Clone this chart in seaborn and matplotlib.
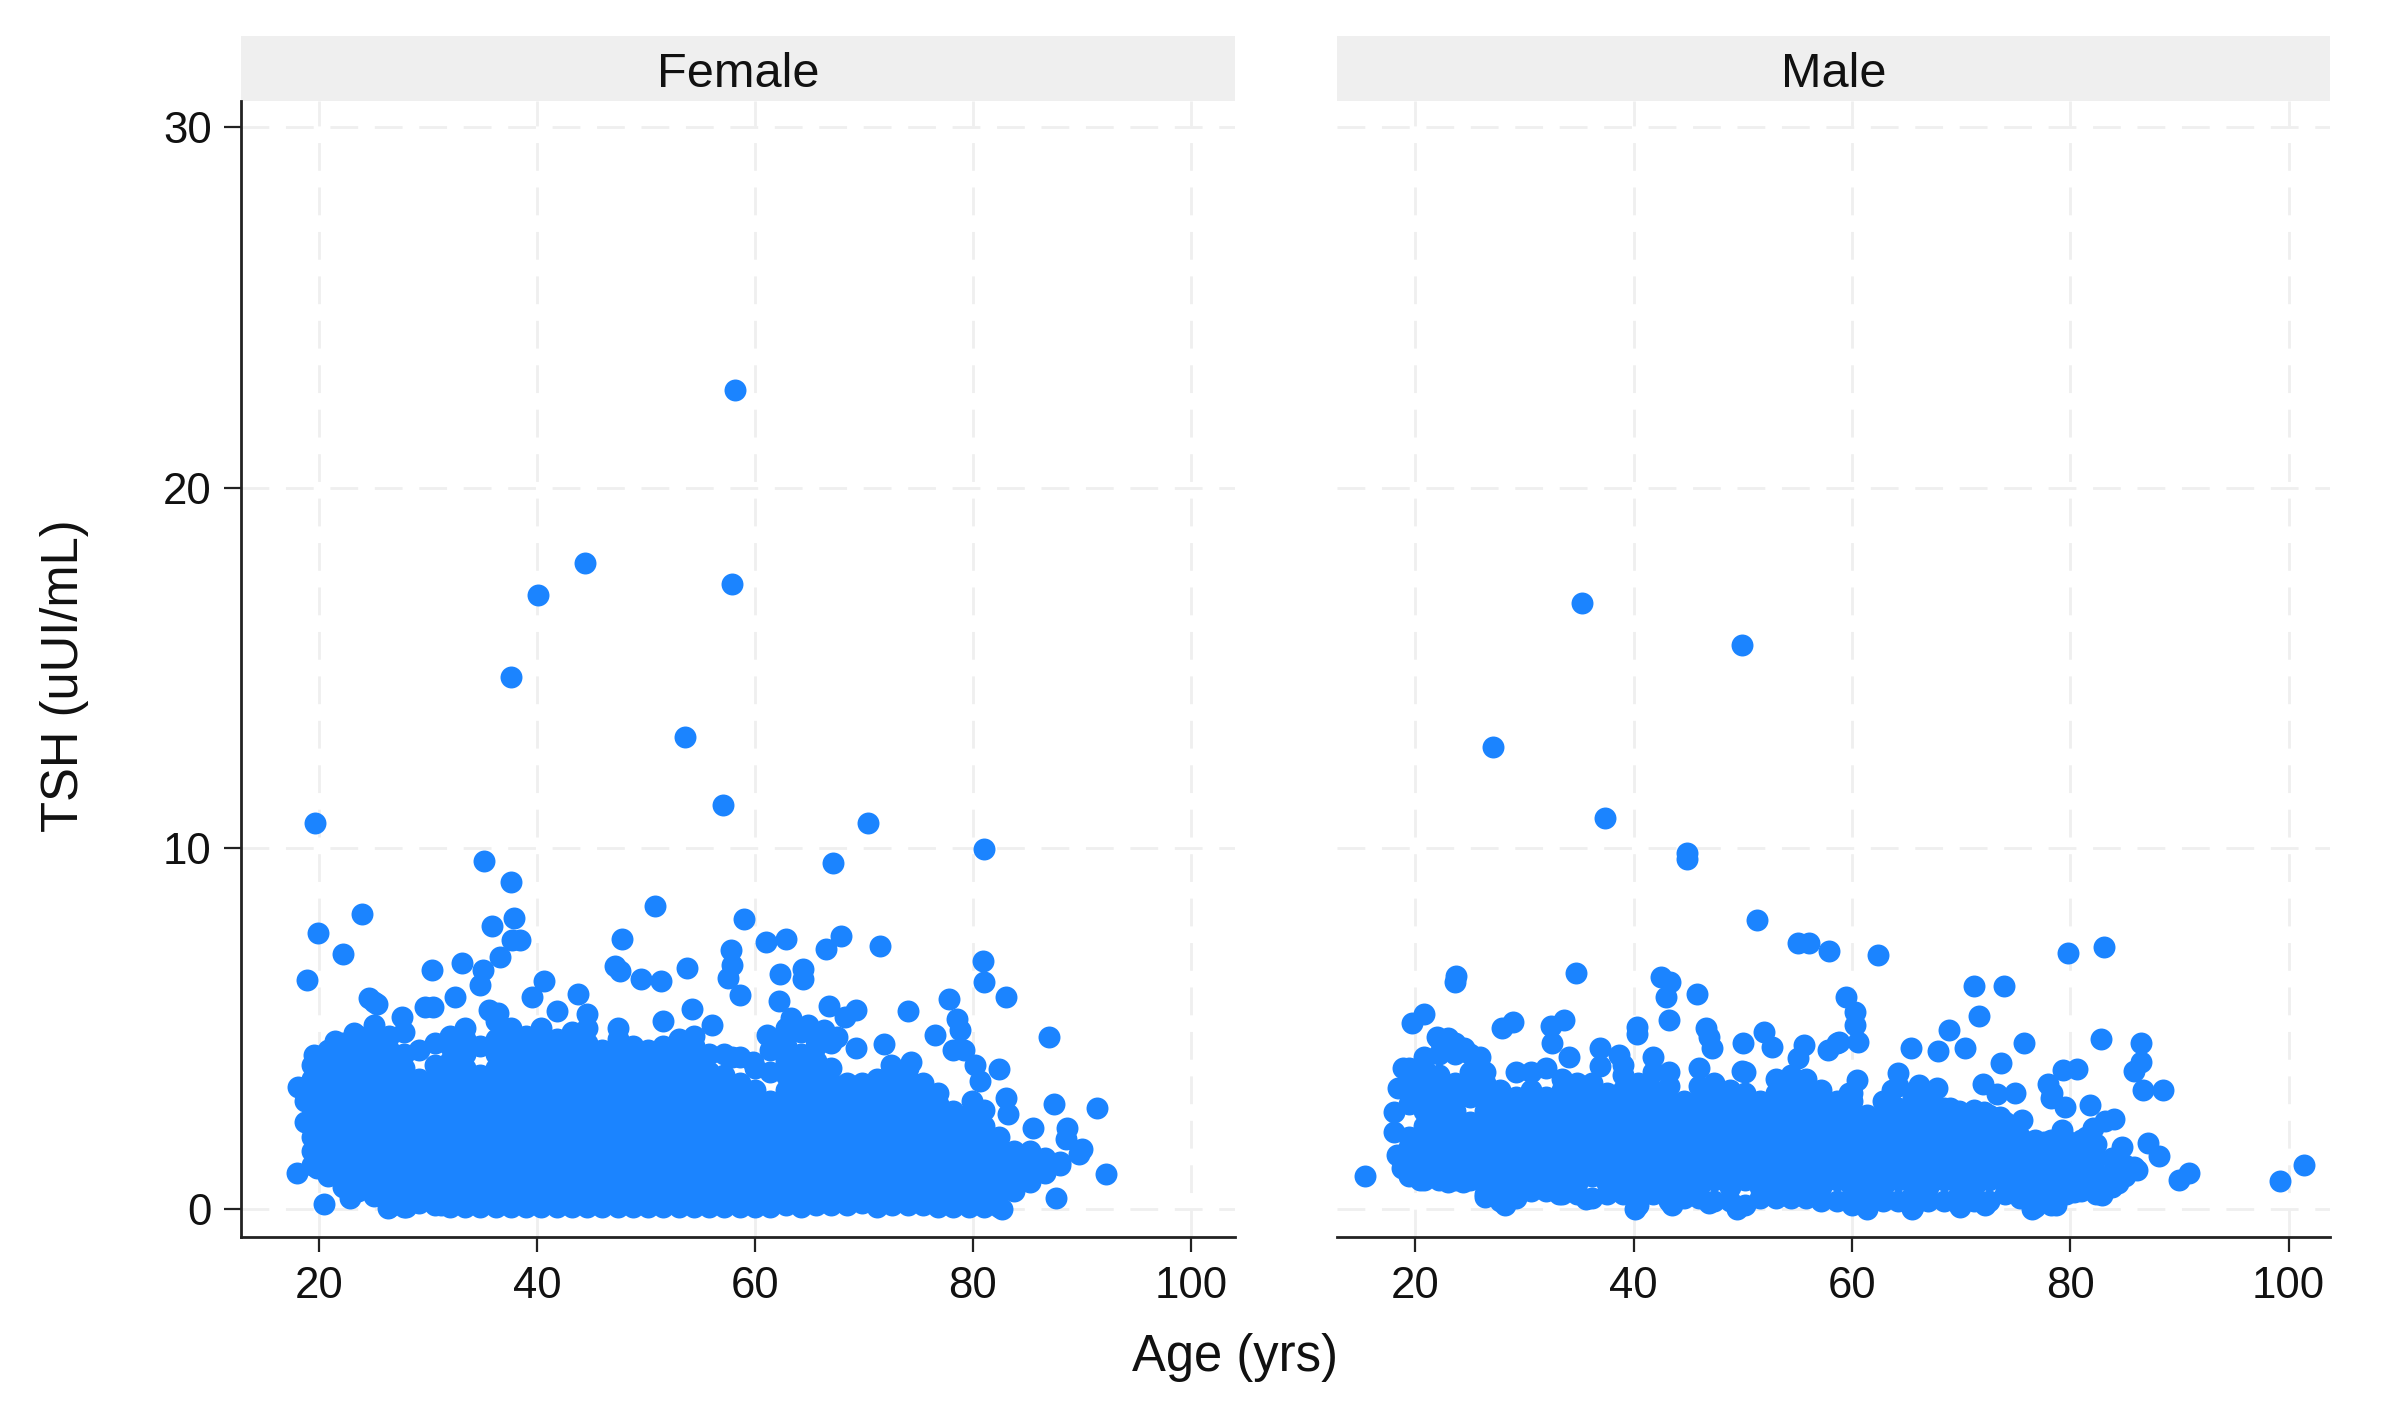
import matplotlib
matplotlib.use("Agg")
import matplotlib.pyplot as plt
from matplotlib.patches import Rectangle
import pandas as pd
import seaborn as sns

sex_labels = ["Female", "Male"]
x_ticks = [20, 40, 60, 80, 100]
y_ticks = [0, 10, 20, 30]
x_title = "Age (yrs)"
y_title = "TSH (uUI/mL)"

# Separately readable points, female panel
f_age = [58.2, 57.9, 44.4, 40.1, 37.6, 53.6, 57.1, 19.65, 70.4, 81.0, 67.2, 35.1, 37.6, 50.8,
         23.9, 19.9, 22.2, 18.9, 37.9, 35.9, 37.7, 38.45, 36.6, 33.1, 35.0, 34.8, 30.4, 32.5,
         24.6, 25.0, 25.3, 29.7, 30.5, 40.6, 39.5, 47.8, 47.2, 47.6, 49.5, 51.4, 53.8, 59.0,
         57.8, 57.9, 57.5, 58.6, 43.8, 41.8, 54.2, 56.1, 35.6, 36.4, 27.6, 25.0, 23.2, 21.5,
         19.5, 18.1, 18.7, 18.7, 17.95, 19.8, 20.5, 61.0, 62.8, 66.5, 67.9, 71.5, 62.3, 64.4,
         64.4, 62.2, 66.8, 69.3, 68.3, 74.0, 77.8, 80.9, 81.0, 83.0, 78.5, 78.8, 76.5, 87.0,
         78.2, 79.2, 80.2, 82.4, 80.6, 87.4, 91.4, 83.0, 83.2, 79.9, 81.0, 85.5, 88.6, 88.5,
         90.0, 89.7, 92.2, 87.6, 82.7, 69.3, 71.8, 74.3, 72.5, 61.1, 62.0, 63.3, 64.9, 66.3,
         67.5, 59.8, 57.9, 22.8, 26.3, 28.0, 31.2]
f_tsh = [22.71, 17.32, 17.91, 17.02, 14.75, 13.1, 11.2, 10.7, 10.7, 9.99, 9.6, 9.65, 9.06, 8.39,
         8.17, 7.66, 7.07, 6.34, 8.06, 7.84, 7.46, 7.46, 6.98, 6.83, 6.62, 6.2, 6.62, 5.88,
         5.84, 5.74, 5.68, 5.59, 5.59, 6.32, 5.88, 7.47, 6.72, 6.6, 6.37, 6.33, 6.69, 8.03,
         7.19, 6.76, 6.41, 5.93, 5.96, 5.49, 5.54, 5.1, 5.51, 5.42, 5.33, 5.1, 4.87, 4.65,
         4.27, 3.39, 3.0, 2.4, 1.0, 1.12, 0.13, 7.39, 7.49, 7.2, 7.57, 7.3, 6.52, 6.64,
         6.37, 5.77, 5.63, 5.5, 5.33, 5.49, 5.83, 6.87, 6.3, 5.87, 5.26, 4.96, 4.82, 4.75,
         4.4, 4.4, 4.0, 3.87, 3.53, 2.9, 2.78, 3.06, 2.64, 3.0, 2.74, 2.25, 2.23, 1.92,
         1.65, 1.52, 0.95, 0.31, 0.0, 4.45, 4.57, 4.08, 4.0, 4.82, 4.63, 5.28, 5.1, 4.96,
         4.77, 4.08, 4.2, 0.3, 0.01, 0.05, 0.1]

# Dense mass, female panel: age of each column and the TSH values along it
f_col_age = [19.4, 20.8, 22.2, 23.6, 25.0, 26.4, 27.8, 29.2, 30.6, 32.0, 33.4, 34.8, 36.2, 37.6,
             39.0, 40.4, 41.8, 43.2, 44.6, 46.0, 47.4, 48.8, 50.2, 51.6, 53.0, 54.4, 55.8, 57.2,
             58.6, 60.0, 61.4, 62.8, 64.2, 65.6, 67.0, 68.4, 69.8, 71.2, 72.6, 74.0, 75.4, 76.8,
             78.2, 79.6, 81.0, 82.4, 83.8, 85.2, 86.6, 88.0]
f_col_tsh = [
    [1.2, 1.6, 2.0, 2.4, 2.8, 3.2, 3.6, 4.0],
    [0.9, 1.3, 1.7, 2.1, 2.5, 2.9, 3.3, 3.7, 4.1, 4.4],
    [0.6, 1.0, 1.4, 1.8, 2.2, 2.6, 3.0, 3.4, 3.8, 4.2, 4.6],
    [0.5, 0.8, 1.2, 1.6, 2.0, 2.4, 2.8, 3.2, 3.6, 4.0, 4.4, 4.8],
    [0.35, 0.7, 1.1, 1.5, 1.9, 2.3, 2.7, 3.1, 3.5, 3.9, 4.3, 4.7],
    [0.05, 0.4, 0.8, 1.2, 1.6, 2.0, 2.4, 2.8, 3.2, 3.6, 4.0, 4.4, 4.8],
    [0.05, 0.3, 0.7, 1.1, 1.5, 1.9, 2.3, 2.7, 3.1, 3.5, 3.9, 4.3, 4.9],
    [0.15, 0.5, 0.9, 1.3, 1.7, 2.1, 2.5, 2.9, 3.3, 3.6, 4.4],
    [0.1, 0.4, 0.8, 1.2, 1.6, 2.0, 2.4, 2.8, 3.2, 3.6, 4.0, 4.6],
    [0.05, 0.5, 0.9, 1.3, 1.7, 2.1, 2.5, 2.9, 3.3, 3.7, 4.1, 4.5, 4.8],
    [0.05, 0.3, 0.7, 1.1, 1.5, 1.9, 2.3, 2.7, 3.1, 3.5, 3.9, 4.3, 4.7, 5.0],
    [0.05, 0.5, 0.9, 1.3, 1.7, 2.1, 2.5, 2.9, 3.3, 3.7, 4.5],
    [0.05, 0.3, 0.7, 1.1, 1.5, 1.9, 2.3, 2.7, 3.1, 3.5, 3.9, 4.3, 4.7, 5.2],
    [0.05, 0.5, 0.9, 1.3, 1.7, 2.1, 2.5, 2.9, 3.3, 3.7, 4.1, 4.5, 5.0],
    [0.05, 0.3, 0.7, 1.1, 1.5, 1.9, 2.3, 2.7, 3.1, 3.5, 3.9, 4.3, 4.8],
    [0.05, 0.5, 0.9, 1.3, 1.7, 2.1, 2.5, 2.9, 3.3, 3.7, 4.1, 4.5, 5.0],
    [0.05, 0.3, 0.7, 1.1, 1.5, 1.9, 2.3, 2.7, 3.1, 3.5, 3.9, 4.3, 4.7],
    [0.05, 0.5, 0.9, 1.3, 1.7, 2.1, 2.5, 2.9, 3.3, 3.7, 4.1, 4.5, 4.9],
    [0.05, 0.3, 0.7, 1.1, 1.5, 1.9, 2.3, 2.7, 3.1, 3.5, 3.9, 4.3, 4.6, 5.0, 5.4],
    [0.05, 0.5, 0.9, 1.3, 1.7, 2.1, 2.5, 2.9, 3.3, 3.7, 4.1, 4.4],
    [0.05, 0.3, 0.7, 1.1, 1.5, 1.9, 2.3, 2.7, 3.1, 3.5, 3.9, 4.3, 4.7, 5.0],
    [0.05, 0.5, 0.9, 1.3, 1.7, 2.1, 2.5, 2.9, 3.3, 3.7, 4.1, 4.5],
    [0.05, 0.3, 0.7, 1.1, 1.5, 1.9, 2.3, 2.7, 3.1, 3.5, 3.9, 4.4],
    [0.05, 0.5, 0.9, 1.3, 1.7, 2.1, 2.5, 2.9, 3.3, 3.7, 4.1, 4.5, 5.2],
    [0.05, 0.3, 0.7, 1.1, 1.5, 1.9, 2.3, 2.7, 3.1, 3.5, 3.9, 4.3, 4.7],
    [0.05, 0.5, 0.9, 1.3, 1.7, 2.1, 2.5, 2.9, 3.3, 3.7, 4.1, 4.5, 4.8],
    [0.05, 0.3, 0.7, 1.1, 1.5, 1.9, 2.3, 2.7, 3.1, 3.5, 3.8, 4.3],
    [0.05, 0.5, 0.9, 1.3, 1.7, 2.1, 2.5, 2.9, 3.3, 3.7, 4.3],
    [0.05, 0.3, 0.7, 1.1, 1.5, 1.9, 2.3, 2.7, 3.1, 3.5, 4.2],
    [0.05, 0.5, 0.9, 1.3, 1.7, 2.1, 2.5, 2.9, 3.3, 3.9],
    [0.05, 0.3, 0.7, 1.1, 1.5, 1.9, 2.3, 2.7, 3.0, 3.8, 4.4],
    [0.1, 0.5, 0.9, 1.3, 1.7, 2.1, 2.5, 2.9, 3.3, 3.7, 4.1, 4.5, 5.0],
    [0.05, 0.3, 0.7, 1.1, 1.5, 1.9, 2.3, 2.7, 3.1, 3.5, 3.9, 4.3, 4.9],
    [0.1, 0.5, 0.9, 1.3, 1.7, 2.1, 2.5, 2.9, 3.3, 3.7, 4.1, 4.5, 4.7],
    [0.1, 0.3, 0.7, 1.1, 1.5, 1.9, 2.3, 2.7, 3.1, 3.5, 3.9, 4.6],
    [0.1, 0.5, 0.9, 1.3, 1.7, 2.1, 2.5, 2.9, 3.2, 3.5],
    [0.15, 0.3, 0.7, 1.1, 1.5, 1.9, 2.3, 2.7, 3.1, 3.5],
    [0.05, 0.5, 0.9, 1.3, 1.7, 2.1, 2.5, 2.9, 3.3, 3.6],
    [0.1, 0.3, 0.7, 1.1, 1.5, 1.9, 2.3, 2.7, 3.1, 3.5, 3.9],
    [0.1, 0.5, 0.9, 1.3, 1.7, 2.1, 2.5, 2.9, 3.3, 3.6, 3.9],
    [0.1, 0.3, 0.7, 1.1, 1.5, 1.9, 2.3, 2.7, 3.1, 3.5],
    [0.05, 0.5, 0.9, 1.3, 1.7, 2.1, 2.5, 2.9, 3.2],
    [0.05, 0.3, 0.7, 1.1, 1.5, 1.9, 2.3, 2.7],
    [0.05, 0.5, 0.9, 1.3, 1.7, 2.1, 2.6],
    [0.05, 0.3, 0.7, 1.1, 1.5, 1.9, 2.3],
    [0.05, 0.4, 0.8, 1.2, 1.6, 2.0],
    [0.5, 0.9, 1.3, 1.6],
    [0.75, 1.1, 1.6],
    [1.0, 1.4],
    [1.2, 1.3],
]

# Separately readable points, male panel
m_age = [35.3, 49.9, 27.1, 37.4, 44.9, 44.9, 15.4, 23.7, 23.6, 34.7, 20.8, 19.7, 28.9, 27.98,
         33.6, 32.4, 32.5, 34.1, 36.9, 36.9, 38.7, 40.3, 40.35, 42.5, 43.3, 43.0, 43.2, 45.8,
         46.6, 46.9, 47.2, 50.0, 51.9, 52.7, 51.3, 55.1, 56.1, 57.9, 59.5, 60.3, 60.3, 58.6,
         57.8, 55.6, 55.1, 49.9, 21.96, 23.0, 24.5, 25.9, 26.2, 18.9, 18.4, 18.0, 18.0, 18.3,
         18.8, 20.4, 23.0, 24.4, 26.4, 28.2, 30.2, 33.2, 35.6, 40.1, 43.5, 46.9, 49.5, 62.35,
         71.2, 73.96, 71.65, 79.8, 83.1, 60.6, 58.8, 65.4, 68.9, 67.9, 70.4, 75.8, 73.7, 72.0,
         73.3, 74.9, 75.6, 78.0, 78.3, 78.2, 79.5, 79.3, 80.6, 82.8, 86.5, 86.5, 85.8, 86.7,
         88.5, 81.8, 79.2, 84.0, 83.2, 82.1, 81.4, 84.7, 87.1, 88.1, 85.8, 86.1, 90.0, 90.9,
         99.2, 101.4, 60.5, 59.7, 64.2, 63.7, 66.1, 67.8, 69.0, 71.2, 72.1, 73.6, 77.6, 61.4,
         65.5, 69.9, 72.2, 76.5, 78.7, 80.3, 82.9, 84.4]
m_tsh = [16.81, 15.63, 12.81, 10.83, 9.86, 9.69, 0.92, 6.45, 6.3, 6.53, 5.4, 5.14, 5.19, 5.0,
         5.23, 5.07, 4.59, 4.22, 4.47, 3.96, 4.26, 5.05, 4.86, 6.44, 6.3, 5.88, 5.24, 5.97,
         5.02, 4.77, 4.47, 4.59, 4.91, 4.49, 8.0, 7.36, 7.36, 7.16, 5.88, 5.46, 5.1, 4.59,
         4.4, 4.54, 4.17, 3.82, 4.77, 4.73, 4.45, 4.21, 3.8, 3.9, 3.34, 2.69, 2.14, 1.49,
         1.12, 0.79, 0.75, 0.75, 0.33, 0.1, 0.56, 0.4, 0.28, 0.0, 0.1, 0.15, 0.0, 7.03,
         6.18, 6.18, 5.35, 7.1, 7.26, 4.62, 4.62, 4.45, 4.96, 4.38, 4.47, 4.6, 4.05, 3.46,
         3.17, 3.22, 2.46, 3.46, 3.2, 3.06, 2.83, 3.85, 3.88, 4.7, 4.61, 4.06, 3.83, 3.3,
         3.3, 2.87, 2.18, 2.48, 2.42, 2.23, 2.0, 1.72, 1.81, 1.46, 1.17, 1.07, 0.8, 0.99,
         0.76, 1.21, 3.57, 3.2, 3.77, 3.29, 3.43, 3.34, 2.79, 2.74, 2.69, 2.55, 1.86, 0.0,
         0.0, 0.05, 0.1, 0.0, 0.1, 0.47, 0.38, 0.7]

# Dense mass, male panel
m_col_age = [19.4, 20.8, 22.2, 23.6, 25.0, 26.4, 27.8, 29.2, 30.6, 32.0, 33.4, 34.8, 36.2, 37.6,
             39.0, 40.4, 41.8, 43.2, 44.6, 46.0, 47.4, 48.8, 50.2, 51.6, 53.0, 54.4, 55.8, 57.2,
             58.6, 60.0, 61.4, 62.8, 64.2, 65.6, 67.0, 68.4, 69.8, 71.2, 72.6, 74.0, 75.4, 76.8,
             78.2, 79.6, 81.0, 82.4, 83.8, 85.0]
m_col_tsh = [
    [0.9, 1.3, 1.7, 2.0, 2.9, 3.3, 3.6, 3.9],
    [0.8, 1.1, 1.5, 1.9, 2.3, 2.7, 3.1, 3.5, 3.9, 4.2],
    [0.8, 1.3, 1.7, 2.1, 2.5, 2.9, 3.3, 3.7, 4.3, 4.7],
    [0.8, 1.1, 1.5, 1.9, 2.3, 2.7, 3.1, 3.5, 4.3, 4.6],
    [0.8, 1.3, 1.7, 2.1, 2.4, 3.1, 3.4, 3.8, 4.3],
    [0.4, 0.8, 1.1, 1.5, 1.9, 2.3, 2.7, 3.1, 3.5, 3.8],
    [0.2, 0.6, 1.0, 1.4, 1.8, 2.2, 2.6, 3.0, 3.3],
    [0.3, 0.7, 1.1, 1.5, 1.9, 2.3, 2.7, 3.1, 3.8],
    [0.5, 0.9, 1.3, 1.7, 2.1, 2.5, 2.9, 3.3, 3.8],
    [0.5, 0.7, 1.1, 1.5, 1.9, 2.3, 2.7, 3.1, 3.9],
    [0.4, 0.9, 1.3, 1.7, 2.1, 2.5, 2.9, 3.3, 3.6],
    [0.4, 0.7, 1.1, 1.5, 1.9, 2.3, 2.7, 3.1, 3.5],
    [0.3, 0.9, 1.3, 1.7, 2.1, 2.5, 2.9, 3.3, 3.5],
    [0.4, 0.7, 1.1, 1.5, 1.9, 2.3, 2.7, 3.2],
    [0.4, 0.9, 1.3, 1.7, 2.1, 2.5, 2.9, 3.3, 3.7, 4.0],
    [0.1, 0.6, 1.0, 1.4, 1.8, 2.2, 2.6, 3.0, 3.5],
    [0.4, 0.9, 1.3, 1.7, 2.1, 2.5, 2.9, 3.3, 3.8, 4.2],
    [0.2, 0.6, 1.0, 1.4, 1.8, 2.2, 2.6, 3.0, 3.4, 3.8],
    [0.3, 0.8, 1.2, 1.6, 2.0, 2.4, 2.8, 3.0],
    [0.3, 0.6, 1.0, 1.4, 1.8, 2.2, 2.6, 3.0, 3.4, 3.9],
    [0.2, 0.8, 1.2, 1.6, 2.0, 2.4, 2.8, 3.2, 3.5],
    [0.2, 0.6, 1.0, 1.4, 1.8, 2.2, 2.6, 3.0, 3.3],
    [0.1, 0.8, 1.2, 1.6, 2.0, 2.4, 2.8, 3.2, 3.8],
    [0.3, 0.6, 1.0, 1.4, 1.8, 2.2, 2.6, 3.0],
    [0.3, 0.8, 1.2, 1.6, 2.0, 2.4, 2.8, 3.2, 3.6],
    [0.3, 0.6, 1.0, 1.4, 1.8, 2.2, 2.6, 3.0, 3.4, 3.7],
    [0.3, 0.8, 1.2, 1.6, 2.0, 2.4, 2.8, 3.2, 3.6],
    [0.2, 0.6, 1.0, 1.4, 1.8, 2.2, 2.6, 3.0, 3.3],
    [0.2, 0.8, 1.2, 1.6, 2.0, 2.4, 2.8, 3.0],
    [0.1, 0.6, 1.0, 1.4, 1.8, 2.2, 2.6, 3.0, 3.2],
    [0.05, 0.4, 0.8, 1.2, 1.6, 2.0, 2.4, 2.6],
    [0.2, 0.6, 1.0, 1.4, 1.8, 2.2, 2.6, 3.0],
    [0.2, 0.8, 1.2, 1.6, 2.0, 2.4, 2.8, 3.4],
    [0.05, 0.4, 0.8, 1.2, 1.6, 2.0, 2.4, 2.8, 3.1],
    [0.2, 0.6, 1.0, 1.4, 1.8, 2.2, 2.6, 3.0, 3.2],
    [0.2, 0.8, 1.2, 1.6, 2.0, 2.4, 2.8],
    [0.1, 0.4, 0.8, 1.2, 1.6, 2.0, 2.4, 2.7],
    [0.2, 0.6, 1.0, 1.4, 1.8, 2.2, 2.7],
    [0.2, 0.8, 1.2, 1.6, 2.0, 2.3, 2.6],
    [0.4, 0.7, 1.0, 1.4, 1.8, 2.1, 2.4],
    [0.3, 0.8, 1.2, 1.6, 2.0],
    [0.05, 0.4, 0.7, 1.0, 1.4, 1.9],
    [0.1, 0.5, 0.9, 1.3, 1.6, 1.9],
    [0.4, 0.7, 1.0, 1.4, 1.9],
    [0.5, 0.9, 1.3, 1.6, 1.9],
    [0.4, 0.7, 1.0, 1.4, 1.8],
    [0.6, 1.0, 1.4],
    [0.9, 1.2],
]


def table(sex, ages, tshs, col_ages, col_tshs):
    rows = [(sex, a, t) for a, t in zip(ages, tshs)]
    for a, column in zip(col_ages, col_tshs):
        rows.extend((sex, a, t) for t in column)
    return pd.DataFrame(rows, columns=["Sex", "Age", "TSH"])


data = pd.concat([
    table(sex_labels[0], f_age, f_tsh, f_col_age, f_col_tsh),
    table(sex_labels[1], m_age, m_tsh, m_col_age, m_col_tsh),
])

W, H = 2383, 1411
sns.set_theme(style="white")
plt.rcParams["font.family"] = ["Liberation Sans", "DejaVu Sans"]

grid = sns.FacetGrid(data, col="Sex", col_order=sex_labels, sharex=False, sharey=True)
grid.map_dataframe(sns.scatterplot, x="Age", y="TSH", color="#1b84ff", s=250,
                   linewidth=0, alpha=1, zorder=3, clip_on=False)
fig = grid.figure
fig.set_size_inches(W / 100, H / 100)
fig.set_dpi(100)

panel_px = [(241, 1235), (1337, 2330)]
xlims = [(12.84, 104.04), (12.82, 103.8)]
top_px, bottom_px, strip_top = 100.7, 1236.7, 36

for i, ax in enumerate(grid.axes.flat):
    left, right = panel_px[i]
    ax.set_position([left / W, 1 - bottom_px / H, (right - left) / W, (bottom_px - top_px) / H])
    ax.set_xlim(*xlims[i])
    ax.set_ylim(-0.777, 30.74)
    ax.set_xticks(x_ticks)
    ax.set_yticks(y_ticks)
    ax.set_axisbelow(True)
    ax.grid(True, color="#efefef", lw=2.0, linestyle=(0, (10, 6)))
    ax.set_title("")
    ax.set_xlabel("")
    ax.set_ylabel("")
    for name in ("top", "right"):
        ax.spines[name].set_visible(False)
    ax.spines["bottom"].set_color("#222222")
    ax.spines["bottom"].set_linewidth(2.0)
    ax.spines["left"].set_color("#222222")
    ax.spines["left"].set_linewidth(2.0)
    ax.spines["left"].set_visible(i == 0)
    ax.tick_params(axis="x", bottom=True, length=11, width=1.6, color="#222222",
                   labelsize=31.5, labelcolor="#111111", pad=10)
    ax.tick_params(axis="y", left=(i == 0), labelleft=(i == 0), length=12, width=1.6,
                   color="#222222", labelsize=31.5, labelcolor="#111111", pad=9)
    h = (top_px - strip_top) / (bottom_px - top_px)
    ax.add_patch(Rectangle((0, 1), 1, h, transform=ax.transAxes, facecolor="#efefef",
                           edgecolor="none", clip_on=False))
    ax.text(0.5, 1 + h / 2 - 0.005, sex_labels[i], transform=ax.transAxes, ha="center", va="center",
            fontsize=35, color="#111111")

fig.text(1235 / W, 1 - 1357 / H, x_title, ha="center", va="center", fontsize=36.5, color="#111111")
fig.text(65 / W, 1 - 676 / H, y_title, ha="center", va="center", rotation=90, fontsize=36.5,
         color="#111111")

fig.savefig("out.png", dpi=100, facecolor="white")
